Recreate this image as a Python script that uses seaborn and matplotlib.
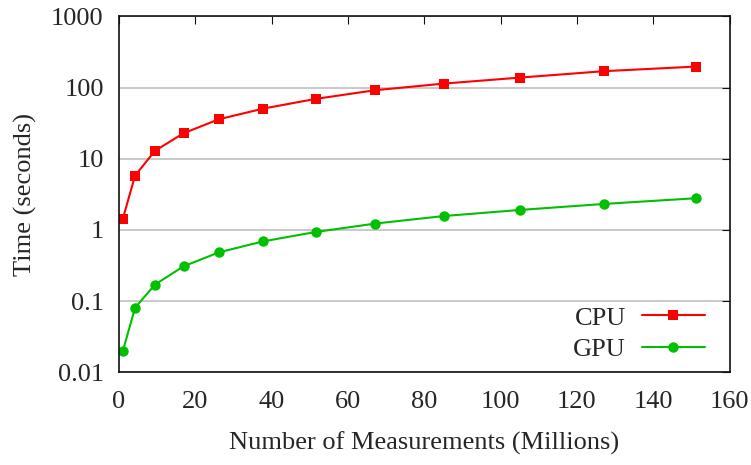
import numpy as np
import pandas as pd
import matplotlib
matplotlib.use("Agg")
import matplotlib.pyplot as plt
import seaborn as sns

measurements = [1.0, 4.2, 9.4, 16.9, 26.2, 37.8, 51.5, 67.1, 85.1, 105.0, 127.0, 151.1]
cpu_time = [1.44, 5.8, 12.9, 22.8, 35.9, 50.6, 69.2, 91.6, 113.5, 137.7, 169.4, 196.7]
gpu_time = [0.020, 0.081, 0.171, 0.309, 0.486, 0.693, 0.937, 1.23, 1.57, 1.91, 2.32, 2.79]

y_ticks = [0.01, 0.1, 1, 10, 100, 1000]
y_tick_labels = ["0.01", "0.1", "1", "10", "100", "1000"]
x_ticks = [0, 20, 40, 60, 80, 100, 120, 140, 160]

df = pd.DataFrame({
    "Measurements": measurements * 2,
    "Time": cpu_time + gpu_time,
    "Device": ["CPU"] * len(cpu_time) + ["GPU"] * len(gpu_time),
})

sns.set_style("white")
plt.rcParams["font.family"] = ["Liberation Serif", "DejaVu Serif"]

fs = 19

fig = plt.figure(figsize=(7.51, 4.65), dpi=100)
ax = fig.add_axes([0.1585, 0.199, 0.813, 0.766])

sns.lineplot(data=df, x="Measurements", y="Time", hue="Device", style="Device",
             palette={"CPU": "#ff0000", "GPU": "#00c000"},
             markers={"CPU": "s", "GPU": "o"}, dashes=False,
             markersize=7.5, markeredgewidth=0, linewidth=1.5, ax=ax)

ax.set_yscale("log")
ax.set_xlim(0, 160)
ax.set_ylim(0.01, 1000)
ax.set_xticks(x_ticks)
ax.set_xticklabels([str(t) for t in x_ticks])
ax.set_yticks(y_ticks)
ax.set_yticklabels(y_tick_labels)
ax.yaxis.set_minor_locator(matplotlib.ticker.NullLocator())

ax.tick_params(axis="both", which="major", direction="in", length=6, width=0.8,
               top=True, right=True, labelsize=fs, color="#111111")
ax.tick_params(axis="x", pad=13)
ax.tick_params(axis="y", pad=11)

ax.yaxis.grid(True, color="#c0c0c0", linewidth=1.2)
ax.xaxis.grid(False)
ax.set_axisbelow(True)
for s in ax.spines.values():
    s.set_color("#111111")
    s.set_linewidth(1.2)

ax.set_xlabel("Number of Measurements (Millions)", fontsize=fs, labelpad=14)
ax.set_ylabel("Time (seconds)", fontsize=fs, labelpad=10)

leg = ax.legend(loc="lower right", bbox_to_anchor=(0.99, -0.02), frameon=False,
                markerfirst=False, fontsize=fs, handlelength=2.4,
                handletextpad=0.6, labelspacing=0.3, borderaxespad=0.3)

fig.savefig("out.png", dpi=100)
